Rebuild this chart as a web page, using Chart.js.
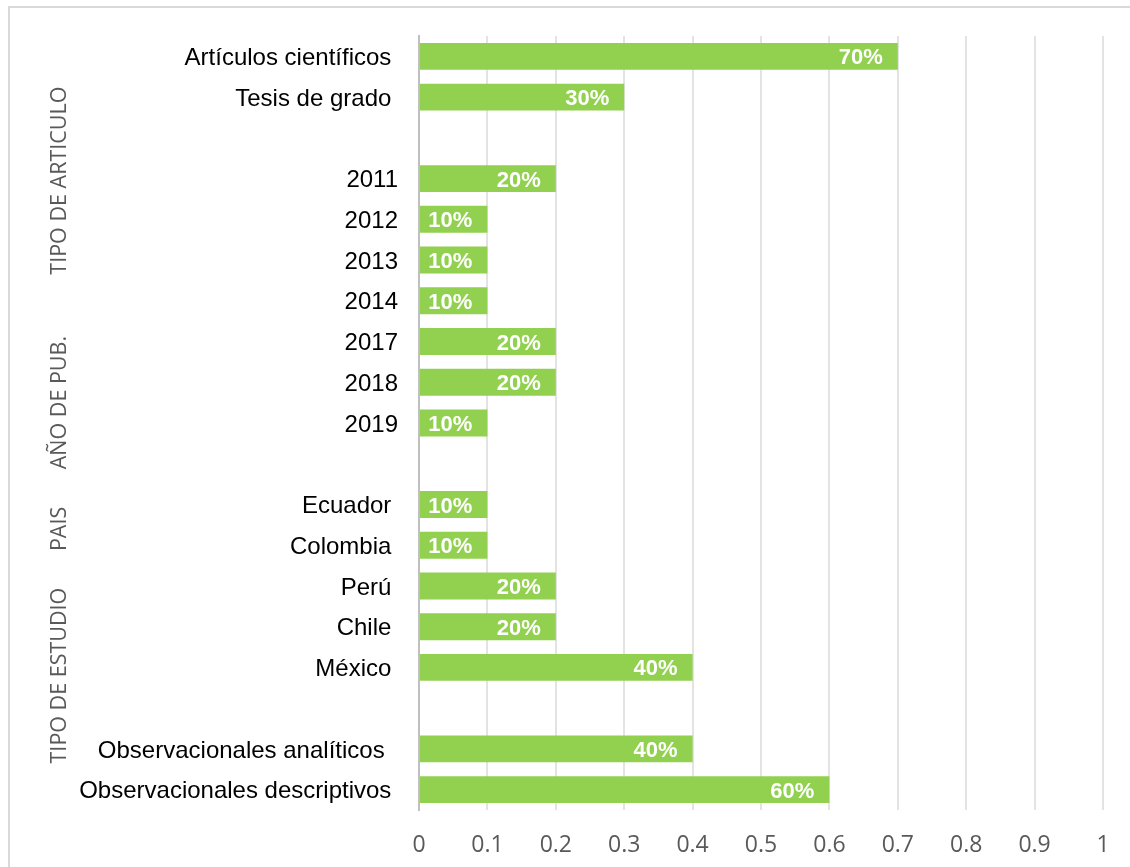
<!DOCTYPE html>
<html>
<head>
<meta charset="utf-8">
<script src="https://cdn.jsdelivr.net/npm/chart.js@4"></script>
<style>
  html, body { margin: 0; padding: 0; background: #ffffff; overflow: hidden; }
  #frame {
    position: absolute; left: 8px; top: 6px;
    width: 1130px; height: 870px;
    border: 2px solid #d9d9d9;
    background: #ffffff;
  }
  #chart { position: absolute; left: 0; top: 0; }
</style>
</head>
<body>
<div id="frame"><canvas id="chart" width="1120" height="859"></canvas></div>
<script>
// Categories from top to bottom; empty strings separate the groups
const categories = [
  'Artículos científicos ', 'Tesis de grado ', '',
  '2011', '2012', '2013', '2014', '2017', '2018', '2019', '',
  'Ecuador ', 'Colombia ', 'Perú ', 'Chile ', 'México ', '',
  'Observacionales analíticos  ', 'Observacionales descriptivos '
];
// Share of studies in each category
const shares = [
  0.7, 0.3, null,
  0.2, 0.1, 0.1, 0.1, 0.2, 0.2, 0.1, null,
  0.1, 0.1, 0.2, 0.2, 0.4, null,
  0.4, 0.6
];
// Value axis ticks
const tickValues = [0, 0.1, 0.2, 0.3, 0.4, 0.5, 0.6, 0.7, 0.8, 0.9, 1];
// Group headings written vertically beside the categories
const groupTitles = ['TIPO DE ARTICULO', 'AÑO DE PUB.', 'PAIS', 'TIPO DE ESTUDIO'];

// Percentage labels drawn inside the end of each bar
const barValueLabels = {
  id: 'barValueLabels',
  afterDatasetsDraw(chart) {
    const ctx = chart.ctx;
    const meta = chart.getDatasetMeta(0);
    ctx.save();
    ctx.fillStyle = '#ffffff';
    ctx.font = 'bold 22px "Liberation Sans", Arial, sans-serif';
    ctx.textAlign = 'right';
    ctx.textBaseline = 'middle';
    meta.data.forEach((bar, i) => {
      const v = shares[i];
      if (v === null || v === undefined) return;
      const text = Math.round(v * 100) + '%';
      ctx.fillText(text, bar.x - 15, bar.y + 2);
    });
    ctx.restore();
  }
};

// Vertical group headings, anchored on category positions of the y scale
const groupHeadings = {
  id: 'groupHeadings',
  afterDraw(chart, args, opts) {
    const ctx = chart.ctx;
    const yScale = chart.scales.y;
    ctx.save();
    ctx.fillStyle = opts.color;
    ctx.font = opts.font;
    ctx.textAlign = 'center';
    ctx.textBaseline = 'alphabetic';
    groupTitles.forEach((title, i) => {
      const y = yScale.getPixelForValue(opts.anchors[i]);
      ctx.save();
      ctx.translate(opts.x, y);
      ctx.rotate(-Math.PI / 2);
      ctx.fillText(title, 0, 0);
      ctx.restore();
    });
    ctx.restore();
  }
};

// Drop the extra room Chart.js keeps for half of the first/last tick label
function noEdgePadding(scale) {
  scale.paddingTop = 0;
  scale.paddingBottom = 0;
  scale.paddingLeft = 0;
  scale.paddingRight = 0;
}

new Chart(document.getElementById('chart'), {
  type: 'bar',
  data: {
    labels: categories,
    datasets: [{
      data: shares,
      backgroundColor: '#92d050',
      borderWidth: 0,
      barPercentage: 0.66,
      categoryPercentage: 1.0
    }]
  },
  options: {
    indexAxis: 'y',
    responsive: false,
    animation: false,
    layout: { padding: { top: 28, right: 27, bottom: 0, left: 0 } },
    plugins: {
      legend: { display: false },
      tooltip: { enabled: false },
      groupHeadings: {
        x: 56,
        anchors: [3.05, 8.5, 11.6, 15.2],
        color: '#595959',
        font: '21.5px "Open Sans", "Liberation Sans", sans-serif'
      }
    },
    scales: {
      x: {
        type: 'linear',
        min: 0,
        max: 1,
        afterBuildTicks(scale) {
          scale.ticks = tickValues.map(v => ({ value: v }));
        },
        afterFit(scale) { scale.height = 57; noEdgePadding(scale); },
        grid: {
          color: '#e3e3e3',
          lineWidth: 2,
          drawTicks: false
        },
        border: { display: false },
        ticks: {
          color: '#595959',
          padding: 22,
          maxRotation: 0,
          font: { family: '"Open Sans", "Liberation Sans", sans-serif', size: 23 },
          callback: (v) => String(Math.round(v * 10) / 10)
        }
      },
      y: {
        afterFit(scale) { scale.width = 409; noEdgePadding(scale); },
        grid: { display: false, drawTicks: false },
        border: { display: true, color: '#bfbfbf', width: 2 },
        ticks: {
          color: '#000000',
          padding: 21,
          labelOffset: 2,
          autoSkip: false,
          font: { family: '"Liberation Sans", Arial, sans-serif', size: 24 }
        }
      }
    }
  },
  plugins: [barValueLabels, groupHeadings]
});
</script>
</body>
</html>
